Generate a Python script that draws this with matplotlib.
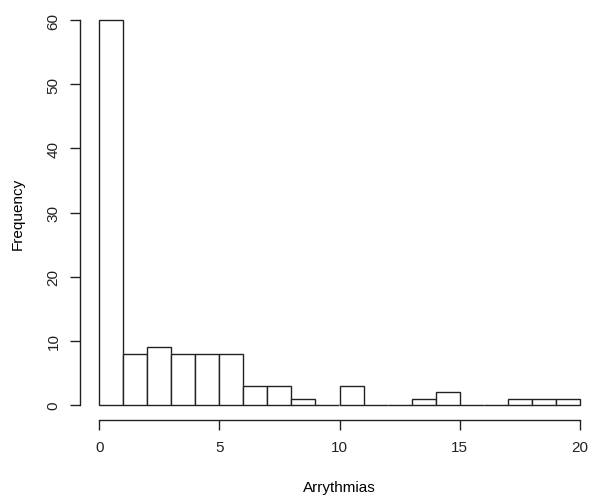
import matplotlib
matplotlib.use('Agg')
import matplotlib.pyplot as plt
import numpy as np

plt.rcParams['font.family'] = ['Liberation Sans', 'DejaVu Sans']

bin_edges = np.arange(0, 21, 1)
counts = [60, 8, 9, 8, 8, 8, 3, 3, 1, 0, 3, 0, 0, 1, 2, 0, 0, 1, 1, 1]
x_ticks = [0, 5, 10, 15, 20]
y_ticks = [0, 10, 20, 30, 40, 50, 60]

fig = plt.figure(figsize=(6, 5.02), dpi=100)
ax = fig.add_axes([80 / 600, 1 - 421.4 / 502, 519 / 600, 415.8 / 502])

ax.bar(bin_edges[:-1], counts, width=1, align='edge',
       facecolor='white', edgecolor='#222222', linewidth=1)

ax.set_xlim(-0.8, 20.8)
ax.set_ylim(-2.4, 62.4)

for s in ['top', 'right']:
    ax.spines[s].set_visible(False)
ax.spines['left'].set_bounds(0, 60)
ax.spines['bottom'].set_bounds(0, 20)
for s in ['left', 'bottom']:
    ax.spines[s].set_linewidth(1)
    ax.spines[s].set_color('#222222')

ax.set_xticks(x_ticks)
ax.set_yticks(y_ticks)
ax.set_yticklabels([str(v) for v in y_ticks], rotation=90, va='center')
ax.tick_params(direction='out', length=7, width=1, colors='#222222',
               labelsize=11, pad=7)

ax.set_xlabel('Arrythmias', fontsize=11, labelpad=19)
ax.set_ylabel('Frequency', fontsize=11, labelpad=16)

fig.savefig('out.png', dpi=100)
